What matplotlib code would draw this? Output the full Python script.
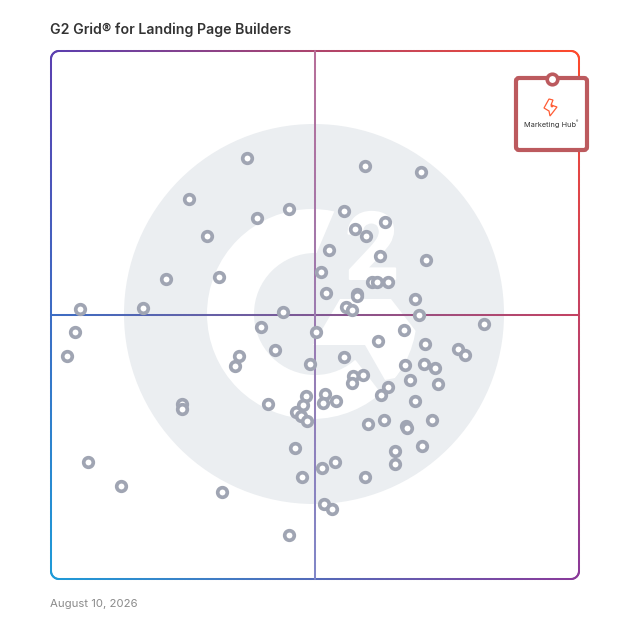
import numpy as np
import matplotlib
matplotlib.use('Agg')
import matplotlib.pyplot as plt
from matplotlib.collections import LineCollection
from matplotlib.colors import to_rgb
from matplotlib.patches import Circle, FancyBboxPatch, Polygon
import matplotlib.patheffects as pe

title = 'G2 Grid® for Landing Page Builders'
date_label = 'August 10, 2026'
product_label = 'Marketing Hub'

# positions, in image pixels
vendor_x = [247, 365, 421, 189, 289, 257, 344, 355, 366, 385, 207, 329, 380, 426, 321, 166, 219, 372, 377, 388,
            326, 357, 357, 415, 346, 352, 283, 419, 80, 143, 75, 67, 484, 261, 316, 404, 378, 425, 275, 239,
            235, 344, 310, 405, 424, 435, 458, 465, 353, 363, 352, 410, 438, 388, 381, 325, 306, 323, 336, 303,
            268, 182, 182, 415, 296, 301, 307, 368, 384, 406, 407, 432, 422, 395, 395, 295, 335, 322, 302, 365,
            88, 121, 222, 324, 332, 289]
vendor_y = [158, 166, 172, 199, 209, 218, 211, 229, 236, 222, 236, 250, 256, 260, 272, 279, 277, 282, 282, 282,
            293, 294, 296, 299, 307, 310, 312, 315, 309, 308, 332, 356, 324, 327, 332, 330, 341, 344, 350, 356,
            366, 357, 364, 365, 364, 368, 349, 355, 376, 375, 383, 380, 384, 387, 395, 394, 396, 403, 401, 405,
            404, 404, 409, 401, 412, 416, 421, 424, 420, 426, 428, 420, 446, 451, 464, 448, 462, 468, 477, 477,
            462, 486, 492, 504, 509, 535]
highlight_x = [552]
highlight_y = [79]

GRAY = '#EBEEF1'
RING = '#A0A5B3'
HL = '#BC5A5E'
ORANGE = '#FF5C35'

corner_tl = np.array(to_rgb('#5B3FB0'))
corner_tr = np.array(to_rgb('#FF4A2B'))
corner_bl = np.array(to_rgb('#1E9BD8'))
corner_br = np.array(to_rgb('#8A3A9A'))

L, R, T, B = 51, 579, 51, 579


def grid_colour(x, y):
    u = (x - L) / (R - L)
    v = (y - T) / (B - T)
    top = corner_tl * (1 - u) + corner_tr * u
    bot = corner_bl * (1 - u) + corner_br * u
    return top * (1 - v) + bot * v


def draw_gradient(ax, xs, ys, colour_fn, z):
    pts = np.column_stack([xs, ys])
    segs = np.stack([pts[:-1], pts[1:]], axis=1)
    cols = [colour_fn(*p) for p in pts[:-1]]
    ax.add_collection(LineCollection(segs, colors=cols, linewidths=1.45, capstyle='round', zorder=z))


fig = plt.figure(figsize=(6.28, 6.28), dpi=100, facecolor='white')
ax = fig.add_axes([0, 0, 1, 1])
ax.set_xlim(0, 628)
ax.set_ylim(628, 0)
ax.axis('off')

# G2 watermark
ax.add_patch(Circle((314, 314), 190, fc=GRAY, ec='none', zorder=1))
ax.add_patch(Circle((312, 314), 105, fc='white', ec='none', zorder=2))
ax.add_patch(Circle((315, 314), 61, fc=GRAY, ec='none', zorder=3))
ax.add_patch(Polygon([(317, 252), (337, 205), (425, 205), (425, 400), (380, 392), (357, 362), (315, 314)],
                     fc=GRAY, ec='none', zorder=3))
chevron = Polygon([(313, 345), (340, 299), (391, 299), (425, 343), (395, 378), (385, 380), (365, 345)],
                  fc='white', ec='none', zorder=4)
ax.add_patch(chevron)
chevron.set_clip_path(Circle((312, 314), 105, transform=ax.transData))
two = ax.text(372, 279, '2', family='Roboto', fontweight='bold', fontsize=67, color='white',
              ha='center', va='baseline', zorder=4)
two.set_path_effects([pe.withStroke(linewidth=1.5, foreground='white')])

# outer frame with rounded corners, colour follows the corners
rad = 8
arc = np.linspace(0, np.pi / 2, 12)
fx = np.concatenate([np.linspace(L + rad, R - rad, 200), R - rad + rad * np.sin(arc),
                     np.full(200, R), R - rad + rad * np.cos(arc),
                     np.linspace(R - rad, L + rad, 200), L + rad - rad * np.sin(arc),
                     np.full(200, L), L + rad - rad * np.cos(arc)])
fy = np.concatenate([np.full(200, T), T + rad - rad * np.cos(arc),
                     np.linspace(T + rad, B - rad, 200), B - rad + rad * np.sin(arc),
                     np.full(200, B), B - rad + rad * np.cos(arc),
                     np.linspace(B - rad, T + rad, 200), T + rad - rad * np.sin(arc)])
draw_gradient(ax, fx, fy, grid_colour, 5)

# centre lines
hx = np.linspace(L, R, 200)
draw_gradient(ax, hx, np.full(200, 315), grid_colour, 5)
vy = np.linspace(T, B, 200)
draw_gradient(ax, np.full(200, 315), vy,
              lambda x, y: grid_colour(x, y) * 0.62 + 0.38 * np.array(to_rgb('#C8B4E0')), 5)

# vendors
ax.plot(vendor_x, vendor_y, 'o', ms=6.9, mfc='white', mec=RING, mew=2.65, zorder=6)

# highlighted product card
ax.add_patch(FancyBboxPatch((516, 78), 71, 72, boxstyle='round,pad=0,rounding_size=3',
                            fc='white', ec=HL, lw=3.0, zorder=7))
ax.plot(highlight_x, highlight_y, 'o', ms=7.6, mfc='white', mec=HL, mew=2.6, zorder=8)
ax.add_patch(Polygon([(549, 99), (553, 100), (551, 105), (557, 107), (550, 116), (549, 111), (544, 108)],
                     fc='white', ec=ORANGE, lw=0.9, zorder=8))
ax.add_patch(Circle((552, 106), 1.4, fc=ORANGE, ec='none', zorder=9))
ax.text(550, 124.5, product_label, family='Inter', fontsize=5.3, color='#333333', ha='center', va='center', zorder=9)
ax.text(576.5, 121.5, '®', family='Inter', fontsize=2.5, color='#333333', ha='center', va='center', zorder=9)

# texts
ax.text(50, 29.5, title, family='Inter', fontweight='semibold', fontsize=10.2, color='#333333', ha='left', va='center')
ax.text(50, 604, date_label, family='Inter', fontsize=8.2, color='#8A8A8A', ha='left', va='center')

fig.savefig('out.png', dpi=100, facecolor='white')
